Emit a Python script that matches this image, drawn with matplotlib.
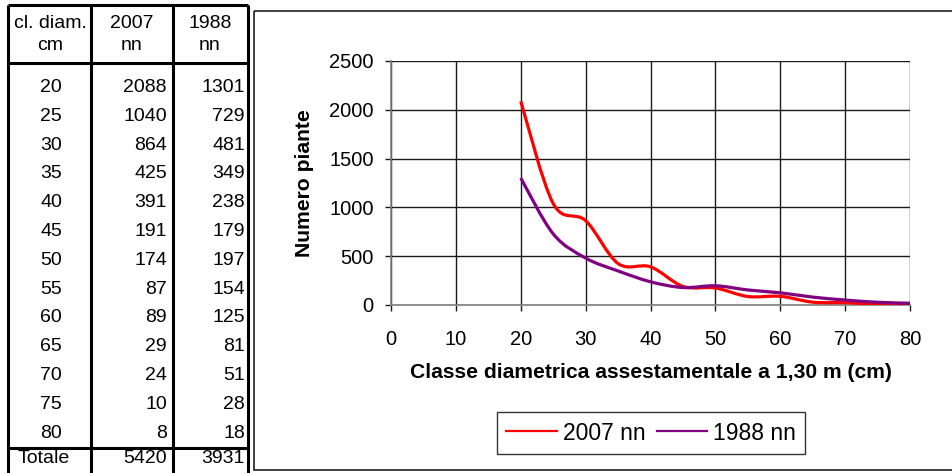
import numpy as np
import matplotlib
matplotlib.use("Agg")
import matplotlib.pyplot as plt
from matplotlib.path import Path
from matplotlib.patches import PathPatch, Rectangle
from matplotlib.lines import Line2D

plt.rcParams['font.family'] = ['Liberation Sans', 'DejaVu Sans']

# data from the table
classi = [20, 25, 30, 35, 40, 45, 50, 55, 60, 65, 70, 75, 80]
n2007 = [2088, 1040, 864, 425, 391, 191, 174, 87, 89, 29, 24, 10, 8]
n1988 = [1301, 729, 481, 349, 238, 179, 197, 154, 125, 81, 51, 28, 18]
totali = ['Totale', '5420', '3931']
intestazione = [('cl. diam.', 'cm'), ('2007', 'nn'), ('1988', 'nn')]
serie_labels = ['2007 nn', '1988 nn']
colori = ['#ff0000', '#800080']


def smooth_path(x, y):
    # excel-like smoothed line (bezier through the points)
    pts = np.column_stack([x, y]).astype(float)
    n = len(pts)
    verts = [pts[0]]
    codes = [Path.MOVETO]
    for i in range(n - 1):
        p0 = pts[i - 1] if i > 0 else pts[i]
        p1 = pts[i]
        p2 = pts[i + 1]
        p3 = pts[i + 2] if i + 2 < n else pts[i + 1]
        verts += [p1 + (p2 - p0) / 6, p2 - (p3 - p1) / 6, p2]
        codes += [Path.CURVE4] * 3
    return Path(verts, codes)


fig = plt.figure(figsize=(9.53, 4.73), dpi=100)

# background layer in pixel units for the table and chart box
bg = fig.add_axes([0, 0, 1, 1])
bg.set_xlim(0, 953)
bg.set_ylim(473, 0)
bg.axis('off')

thick = 2.2
# table borders
for xv in [8.5, 91, 173, 248]:
    bg.plot([xv, xv], [5, 473], color='black', lw=thick, solid_capstyle='butt')
for yv in [5, 63, 448]:
    bg.plot([8.5, 248], [yv, yv], color='black', lw=thick, solid_capstyle='butt')

fs_tab = 14
col_c = [50, 132, 210]
for c, (h1, h2) in zip(col_c, intestazione):
    bg.text(c, 24, h1, ha='center', va='center', fontsize=fs_tab)
    bg.text(c, 46, h2, ha='center', va='center', fontsize=fs_tab)
for i, (cl, a, b) in enumerate(zip(classi, n2007, n1988)):
    yv = 87.5 + 28.8 * i
    bg.text(51, yv, str(cl), ha='center', va='center', fontsize=fs_tab)
    bg.text(167, yv, str(a), ha='right', va='center', fontsize=fs_tab)
    bg.text(245, yv, str(b), ha='right', va='center', fontsize=fs_tab)
bg.text(44, 458, totali[0], ha='center', va='center', fontsize=fs_tab)
bg.text(167, 458, totali[1], ha='right', va='center', fontsize=fs_tab)
bg.text(245, 458, totali[2], ha='right', va='center', fontsize=fs_tab)

# chart area box
bg.add_patch(Rectangle((254, 11), 720, 459, fill=False, edgecolor='#202020', lw=1.2))

# the chart
ax = fig.add_axes([391 / 953, 1 - 305 / 473, 519 / 953, 244 / 473])
for yv, col in zip([n2007, n1988], colori):
    ax.add_patch(PathPatch(smooth_path(classi, yv), fill=False, edgecolor=col,
                           lw=2.3, capstyle='butt', joinstyle='round', zorder=3))

ax.set_xlim(0, 80)
ax.set_ylim(0, 2500)
ax.set_xticks(np.arange(0, 81, 10))
ax.set_yticks(np.arange(0, 2501, 500))
ax.grid(True, color='#1a1a1a', lw=1.0)
ax.set_axisbelow(True)
for s in ['top', 'right']:
    ax.spines[s].set_visible(False)
for s in ['left', 'bottom']:
    ax.spines[s].set_color('#808080')
    ax.spines[s].set_linewidth(1.2)
ax.tick_params(axis='x', direction='out', length=4, width=1, color='#1a1a1a',
               labelsize=14.5, pad=14)
ax.tick_params(axis='y', direction='out', length=4.5, width=1, color='#1a1a1a',
               labelsize=14.5, pad=8)

ax.set_xlabel('Classe diametrica assestamentale a 1,30 m (cm)', fontsize=15.2,
              fontweight='bold', va='center')
ax.xaxis.set_label_coords(0.5, (305 - 373) / 244)
ax.set_ylabel('Numero piante', fontsize=15.2, fontweight='bold', va='center')
ax.yaxis.set_label_coords((305 - 391) / 519, 0.5)

handles = [Line2D([], [], color=c, lw=1.6) for c in colori]
leg = ax.legend(handles, serie_labels, loc='center', ncol=2,
                bbox_to_anchor=(651 / 953, 1 - 433 / 473), bbox_transform=fig.transFigure,
                fontsize=16.5, frameon=True, fancybox=False, handlelength=2.2,
                handletextpad=0.25, columnspacing=0.5, borderpad=0.4,
                borderaxespad=0)
leg.get_frame().set_edgecolor('black')
leg.get_frame().set_linewidth(1.0)

fig.savefig('out.png', dpi=100)
